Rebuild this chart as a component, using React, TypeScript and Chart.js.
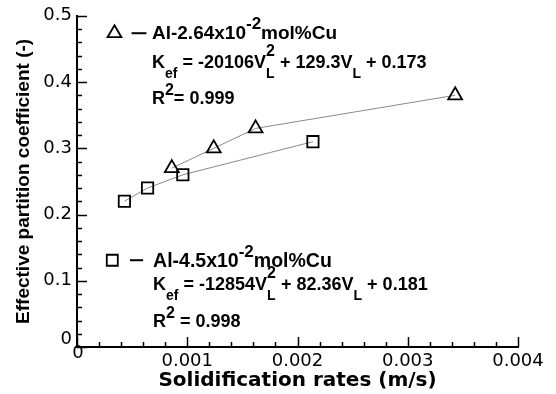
import React, { useEffect, useRef } from 'react';
import { Chart, registerables } from 'chart.js';

Chart.register(...registerables);

// ---- data ----
const seriesNames = ['Al-2.64x10-2mol%Cu', 'Al-4.5x10-2mol%Cu'];
const ratesA = [0.00086, 0.00124, 0.00162, 0.00343];
const kefA = [0.27, 0.30, 0.33, 0.38];
const ratesB = [0.00043, 0.00064, 0.00096, 0.00214];
const kefB = [0.22, 0.24, 0.26, 0.31];
const xMin = 0;
const xMax = 0.004;
const xStep = 0.001;
const xMinor = 0.0002;
const yMin = 0;
const yMax = 0.5;
const yStep = 0.1;
const yMinor = 0.02;
const xTitle = 'Solidification rates (m/s)';
const yTitle = 'Effective partition coefficient (-)';

type Seg = [string, 'n' | 'sub' | 'sup' | 'stack'];
const noteRowsA: Seg[][] = [
  [['Al-2.64x10', 'n'], ['-2', 'sup'], ['mol%Cu', 'n']],
  [['K', 'n'], ['ef', 'sub'], [' = -20106V', 'n'], ['L|2', 'stack'], [' + 129.3V', 'n'], ['L', 'sub'], [' + 0.173', 'n']],
  [['R', 'n'], ['2', 'sup'], ['= 0.999', 'n']],
];
const noteRowsB: Seg[][] = [
  [['Al-4.5x10', 'n'], ['-2', 'sup'], ['mol%Cu', 'n']],
  [['K', 'n'], ['ef', 'sub'], [' = -12854V', 'n'], ['L|2', 'stack'], [' + 82.36V', 'n'], ['L', 'sub'], [' + 0.181', 'n']],
  [['R', 'n'], ['2', 'sup'], [' = 0.998', 'n']],
];

// annotation layout (data units)
const notes = [
  { marker: 'triangle', mx: 0.00034, my: 0.4737, dashFrom: 0.000495, dashTo: 0.00063, tx: 0.00068, rowsY: [0.4654, 0.4217, 0.3675], rows: noteRowsA, sizes: [19, 18, 18] },
  { marker: 'rect', mx: 0.00032, my: 0.131, dashFrom: 0.00048, dashTo: 0.0006, tx: 0.00069, rowsY: [0.1205, 0.086, 0.0301], rows: noteRowsB, sizes: [19.5, 18, 18] },
];

const FONT = '"Liberation Sans", Arial, sans-serif';

function drawRich(ctx: CanvasRenderingContext2D, x: number, y: number, segs: Seg[], size: number) {
  let cx = x;
  const main = `bold ${size}px ${FONT}`;
  const sub = `bold ${Math.round(size * 0.8)}px ${FONT}`;
  const sup = `bold ${Math.round(size * 0.88)}px ${FONT}`;
  ctx.textBaseline = 'alphabetic';
  ctx.textAlign = 'left';
  for (const [t, m] of segs) {
    if (m === 'n') {
      ctx.font = main;
      ctx.fillText(t, cx, y);
      cx += ctx.measureText(t).width;
    } else if (m === 'sub') {
      ctx.font = sub;
      ctx.fillText(t, cx, y + size * 0.55);
      cx += ctx.measureText(t).width;
    } else if (m === 'sup') {
      ctx.font = sup;
      ctx.fillText(t, cx, y - size * 0.5);
      cx += ctx.measureText(t).width;
    } else {
      const [a, b] = t.split('|');
      ctx.font = sub;
      ctx.fillText(a, cx, y + size * 0.55);
      const wa = ctx.measureText(a).width;
      ctx.font = sup;
      ctx.fillText(b, cx, y - size * 0.65);
      const wb = ctx.measureText(b).width;
      cx += Math.max(wa, wb);
    }
  }
}

const overlay = {
  id: 'overlay',
  afterDraw(chart: any) {
    const { ctx, scales } = chart;
    const xs = scales.x;
    const ys = scales.y;
    const x0 = xs.getPixelForValue(xMin);
    const y0 = ys.getPixelForValue(yMin);
    ctx.save();
    ctx.strokeStyle = '#000';
    ctx.lineWidth = 1.5;
    // x ticks (inward)
    const nx = Math.round((xMax - xMin) / xMinor);
    for (let i = 0; i <= nx; i++) {
      const px = Math.round(xs.getPixelForValue(xMin + i * xMinor)) + 0.5;
      const len = i % Math.round(xStep / xMinor) === 0 ? 10 : 5;
      ctx.beginPath();
      ctx.moveTo(px, y0);
      ctx.lineTo(px, y0 - len);
      ctx.stroke();
    }
    const ny = Math.round((yMax - yMin) / yMinor);
    for (let i = 0; i <= ny; i++) {
      const py = Math.round(ys.getPixelForValue(yMin + i * yMinor)) + 0.5;
      const len = i % Math.round(yStep / yMinor) === 0 ? 10 : 5;
      ctx.beginPath();
      ctx.moveTo(x0, py);
      ctx.lineTo(x0 + len, py);
      ctx.stroke();
    }
    // zero labels (offset like the original)
    ctx.fillStyle = '#000';
    ctx.font = '18px "DejaVu Sans"';
    ctx.textAlign = 'right';
    ctx.textBaseline = 'middle';
    ctx.fillText('0', x0 - 5, y0 - 8);
    ctx.textAlign = 'center';
    ctx.fillText('0', x0 + 1, y0 + 6);

    // annotations
    for (const n of notes) {
      const mx = xs.getPixelForValue(n.mx);
      const my = ys.getPixelForValue(n.my);
      ctx.lineWidth = 1.8;
      ctx.strokeStyle = '#000';
      ctx.beginPath();
      if (n.marker === 'triangle') {
        const r = 8;
        ctx.moveTo(mx, my - r);
        ctx.lineTo(mx + r * 0.866, my + r / 2);
        ctx.lineTo(mx - r * 0.866, my + r / 2);
        ctx.closePath();
      } else {
        const s = 5.5;
        ctx.rect(mx - s, my - s, 2 * s, 2 * s);
      }
      ctx.stroke();
      ctx.lineWidth = 2;
      ctx.beginPath();
      ctx.moveTo(xs.getPixelForValue(n.dashFrom), my);
      ctx.lineTo(xs.getPixelForValue(n.dashTo), my);
      ctx.stroke();
      const tx = xs.getPixelForValue(n.tx);
      n.rows.forEach((row, i) => {
        drawRich(ctx, tx, ys.getPixelForValue(n.rowsY[i]), row, n.sizes[i]);
      });
    }
    ctx.restore();
  },
};

export default function App() {
  const ref = useRef<HTMLCanvasElement>(null);
  useEffect(() => {
    if (!ref.current) return;
    const chart = new Chart(ref.current, {
      type: 'scatter',
      data: {
        datasets: [
          {
            label: seriesNames[0],
            data: ratesA.map((x, i) => ({ x, y: kefA[i] })),
            showLine: true,
            borderColor: '#8a8a8a',
            borderWidth: 1,
            tension: 0,
            pointStyle: 'triangle',
            pointRadius: 8,
            pointBorderColor: '#000',
            pointBackgroundColor: 'rgba(255,255,255,0)',
            pointBorderWidth: 1.8,
          },
          {
            label: seriesNames[1],
            data: ratesB.map((x, i) => ({ x, y: kefB[i] })),
            showLine: true,
            borderColor: '#8a8a8a',
            borderWidth: 1,
            tension: 0,
            pointStyle: 'rect',
            pointRadius: 8,
            pointBorderColor: '#000',
            pointBackgroundColor: 'rgba(255,255,255,0)',
            pointBorderWidth: 1.8,
          },
        ],
      } as any,
      options: {
        responsive: true,
        maintainAspectRatio: false,
        animation: false,
        layout: { padding: { top: 15, right: 38, left: 0, bottom: 0 } },
        plugins: { legend: { display: false }, tooltip: { enabled: false } },
        scales: {
          x: {
            type: 'linear',
            min: xMin,
            max: xMax,
            grid: { display: false, drawTicks: false },
            border: { display: true, color: '#000', width: 2 },
            ticks: {
              stepSize: xStep,
              color: '#000',
              padding: 4,
              maxRotation: 0,
              autoSkip: false,
              font: { family: 'DejaVu Sans', size: 18 },
              callback: (v: any) => (Math.abs(v) < 1e-12 ? '' : Number(v).toFixed(3)),
            },
            title: {
              display: true,
              text: xTitle,
              color: '#000',
              font: { family: 'DejaVu Sans', size: 20, weight: 'bold' },
              padding: { top: 0, bottom: 1 },
            },
            afterFit: (s: any) => {
              s.height = 47;
            },
          },
          y: {
            type: 'linear',
            min: yMin,
            max: yMax,
            grid: { display: false, drawTicks: false },
            border: { display: true, color: '#000', width: 2 },
            ticks: {
              stepSize: yStep,
              color: '#000',
              padding: 5,
              font: { family: 'DejaVu Sans', size: 18 },
              callback: (v: any) => (Math.abs(v) < 1e-12 ? '' : Number(v).toFixed(1)),
            },
            title: {
              display: true,
              text: yTitle,
              color: '#000',
              font: { family: '"Liberation Sans", Arial, sans-serif', size: 19, weight: 'bold' },
              padding: { top: 12, bottom: 0 },
            },
            afterFit: (s: any) => {
              s.width = 77;
            },
          },
        },
      } as any,
      plugins: [overlay],
    });
    return () => chart.destroy();
  }, []);
  return (
    <div style={{ position: 'fixed', left: 0, top: 0, width: 556, height: 394, background: '#fff' }}>
      <canvas ref={ref} />
    </div>
  );
}
